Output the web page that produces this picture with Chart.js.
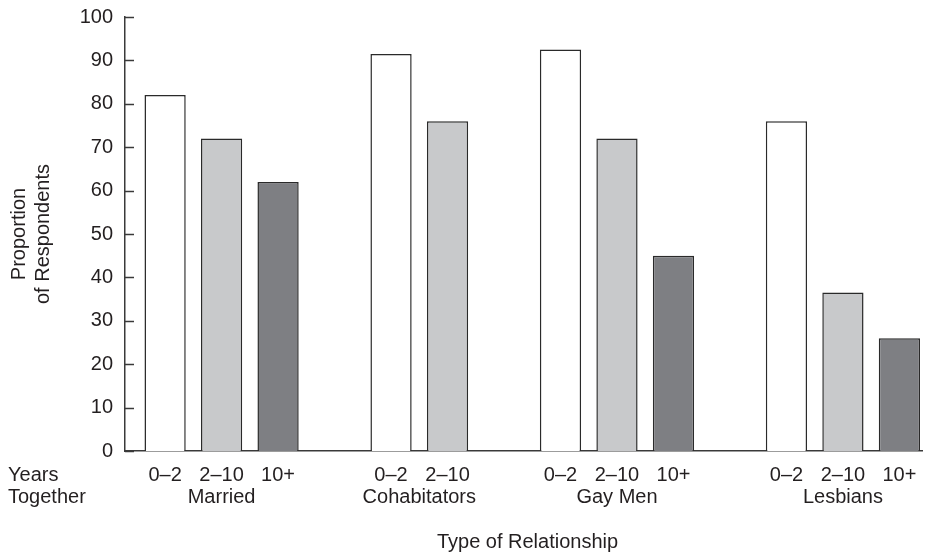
<!DOCTYPE html>
<html>
<head>
<meta charset="utf-8">
<script src="https://cdn.jsdelivr.net/npm/chart.js@4.4.1/dist/chart.umd.min.js"></script>
<style>
  html, body { margin: 0; padding: 0; background: #fff; }
</style>
</head>
<body>
<canvas id="chart" width="930" height="552"></canvas>
<script>
// chart data
const groups = ['Married', 'Cohabitators', 'Gay Men', 'Lesbians'];
const periods = ['0–2', '2–10', '10+'];
const married = [82, 72, 62];
const cohabitators = [91.5, 76];
const gayMen = [92.5, 72, 45];
const lesbians = [76, 36.5, 26];
const yTicks = [0, 10, 20, 30, 40, 50, 60, 70, 80, 90, 100];

const yTitle = ['Proportion', 'of Respondents'];
const xTitle = 'Type of Relationship';
const rowTitle = ['Years', 'Together'];

const periodColors = ['#ffffff', '#c8c9cb', '#7e7f83'];
const ink = '#231f20';
const font = '"Liberation Sans", Arial, Helvetica, sans-serif';

// lay the bars out in slots, one empty slot between groups
const series = [married, cohabitators, gayMen, lesbians];
const points = [];
const colors = [];
const slotLabels = {};
const groupSlots = [];
let slot = 0;
series.forEach((vals) => {
  const slots = [];
  vals.forEach((v, i) => {
    points.push({ x: slot, y: v });
    colors.push(periodColors[i]);
    slotLabels[slot] = periods[i];
    slots.push(slot);
    slot++;
  });
  groupSlots.push(slots);
  slot++;
});

const textPlugin = {
  id: 'texts',
  afterDraw(chart) {
    const ctx = chart.ctx;
    const x = chart.scales.x;
    const y = chart.scales.y;
    const area = chart.chartArea;
    ctx.save();
    ctx.fillStyle = ink;
    ctx.font = `20px ${font}`;

    // inward tick marks on the y axis
    ctx.strokeStyle = '#3a3a3a';
    ctx.lineWidth = 1.5;
    yTicks.forEach(t => {
      const py = Math.round(y.getPixelForValue(t)) + 0.5;
      ctx.beginPath();
      ctx.moveTo(area.left, py);
      ctx.lineTo(area.left + 9, py);
      ctx.stroke();
    });

    // group names under the period labels
    ctx.textAlign = 'center';
    ctx.textBaseline = 'alphabetic';
    groupSlots.forEach((slots, i) => {
      const cx = (x.getPixelForValue(slots[0]) + x.getPixelForValue(slots[slots.length - 1])) / 2;
      ctx.fillText(groups[i], cx, 503);
    });

    // x title
    ctx.fillText(xTitle, (area.left + area.right) / 2 + 4, 548);

    // row title at the left
    ctx.textAlign = 'left';
    ctx.fillText(rowTitle[0], 8, 481);
    ctx.fillText(rowTitle[1], 8, 503);

    // y title, rotated
    ctx.translate(0, (area.top + area.bottom) / 2);
    ctx.rotate(-Math.PI / 2);
    ctx.textAlign = 'center';
    ctx.fillText(yTitle[0], 0, 25);
    ctx.fillText(yTitle[1], 0, 49);
    ctx.restore();
  }
};

new Chart(document.getElementById('chart'), {
  type: 'bar',
  data: {
    datasets: [{
      data: points,
      backgroundColor: colors,
      borderColor: '#2a2a2a',
      borderWidth: 1.5,
      barPercentage: 0.73,
      categoryPercentage: 1
    }]
  },
  options: {
    responsive: false,
    animation: false,
    devicePixelRatio: 1,
    layout: { padding: { left: 0, right: 8, top: 17, bottom: 0 } },
    plugins: {
      legend: { display: false },
      tooltip: { enabled: false }
    },
    scales: {
      x: {
        type: 'linear',
        offset: false,
        min: -0.71,
        max: 13.4,
        grid: { display: false, drawTicks: false, offset: false },
        border: { display: true, color: '#3a3a3a', width: 1.5 },
        afterBuildTicks: (scale) => {
          scale.ticks = Object.keys(slotLabels).map(k => ({ value: Number(k) }));
        },
        afterFit: (scale) => {
          scale.height = 101;
          scale.paddingLeft = 0;
          scale.paddingRight = 0;
        },
        ticks: {
          autoSkip: false,
          maxRotation: 0,
          padding: 12,
          color: ink,
          font: { family: font, size: 20 },
          callback: (value) => slotLabels[value] || ''
        }
      },
      y: {
        min: 0,
        max: 100,
        grid: { display: false, drawTicks: false },
        border: { display: true, color: '#3a3a3a', width: 1.5 },
        afterBuildTicks: (scale) => {
          scale.ticks = yTicks.map(v => ({ value: v }));
        },
        afterFit: (scale) => {
          scale.width = 125;
          scale.paddingTop = 0;
          scale.paddingBottom = 0;
        },
        ticks: {
          padding: 12,
          color: ink,
          font: { family: font, size: 20 }
        }
      }
    }
  },
  plugins: [textPlugin]
});
</script>
</body>
</html>
